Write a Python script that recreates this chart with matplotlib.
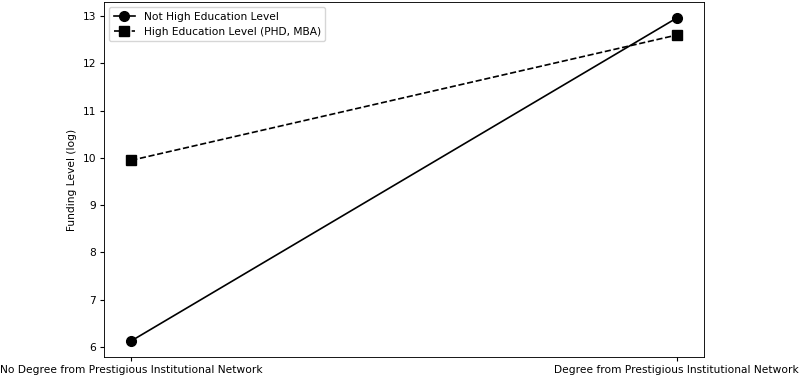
import matplotlib
matplotlib.use("Agg")
import matplotlib.pyplot as plt

categories = ["No Degree from Prestigious Institutional Network",
              "Degree from Prestigious Institutional Network"]
not_high_edu = [6.13, 12.96]
high_edu = [9.95, 12.6]

# everything looks ~0.8 of the defaults in the reference
s = 0.8
plt.rcParams['font.size'] = 7.7
plt.rcParams['xtick.major.size'] = 3.5 * s
plt.rcParams['ytick.major.size'] = 3.5 * s
plt.rcParams['xtick.major.pad'] = 3.5 * s
plt.rcParams['ytick.major.pad'] = 3.5 * s
plt.rcParams['axes.linewidth'] = 0.8 * s

fig = plt.figure(figsize=(8, 3.77), dpi=100)
ax = fig.add_axes([0.13, 0.053, 0.75, 0.942])

x = list(range(len(categories)))
ax.plot(x, not_high_edu, color='black', linestyle='-', marker='o', markersize=7,
        linewidth=1.2, label='Not High Education Level')
ax.plot(x, high_edu, color='black', linestyle='--', marker='s', markersize=7,
        linewidth=1.2, label='High Education Level (PHD, MBA)')

ax.set_xticks(x)
ax.set_xticklabels(categories)
ax.set_ylabel('Funding Level (log)')
ax.legend(loc='upper left')

fig.savefig('out.png', dpi=100)
